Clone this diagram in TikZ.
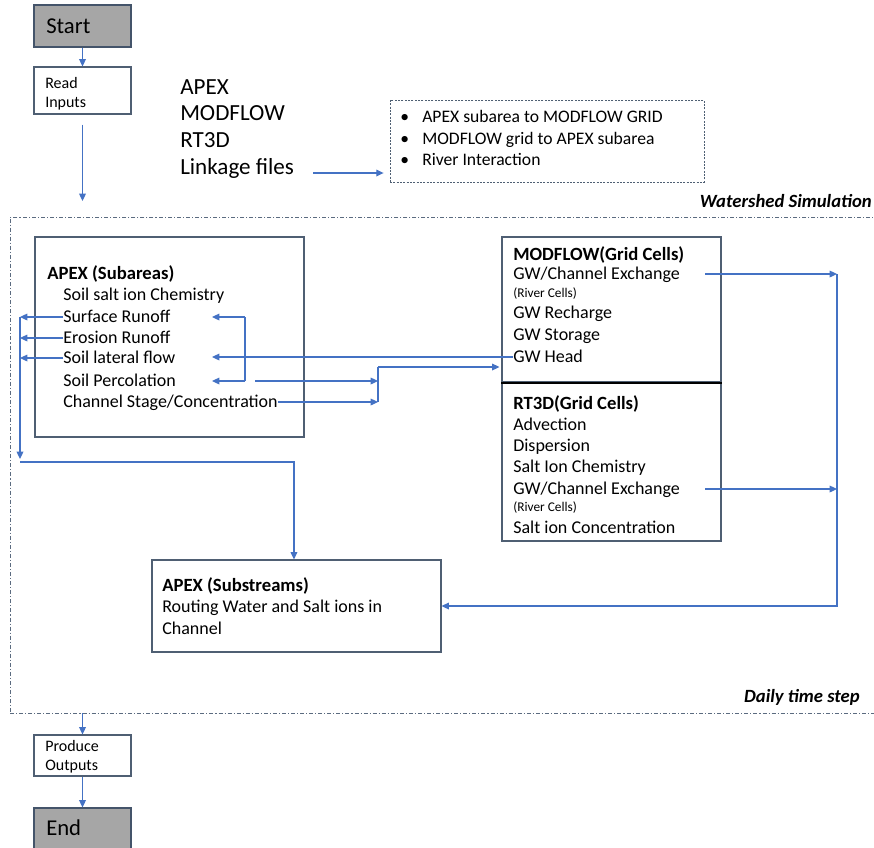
\documentclass[tikz,border=0pt]{standalone}
\usepackage{fontspec}
\setmainfont{Carlito}
\usetikzlibrary{arrows.meta}
\definecolor{ablue}{HTML}{4472C4}
\definecolor{boxc}{HTML}{4F5F73}
\definecolor{termfill}{HTML}{A6A6A6}
\definecolor{termdraw}{HTML}{44546A}
\definecolor{framec}{HTML}{5B6B80}
\begin{document}
\begin{tikzpicture}[x=0.75pt,y=-0.75pt,
  box/.style={draw=boxc, line width=0.8pt, fill=white, inner sep=0pt},
  term/.style={draw=termdraw, line width=0.8pt, fill=termfill, inner sep=0pt, minimum width=72.75pt, minimum height=31.5pt},
  smallbox/.style={draw=boxc, line width=0.8pt, fill=white, inner sep=0pt, minimum width=72.75pt},
  linkbox/.style={draw=boxc, line width=0.6pt, dash pattern=on 1.5pt off 1pt, inner sep=0pt},
  framebox/.style={draw=framec, line width=0.6pt, dash pattern=on 3pt off 1.5pt on 0.8pt off 1.5pt, inner sep=0pt},
  arr/.style={draw=ablue, line width=0.9pt, -{Triangle[length=5.5pt,width=5pt]}},
  ln/.style={draw=ablue, line width=0.9pt},
  tterm/.style={anchor=west, inner sep=0pt, text height=11pt, text depth=0pt, font=\fontsize{17}{20}\selectfont},
  tsmall/.style={anchor=west, inner sep=0pt, text height=7.7pt, text depth=0pt, font=\fontsize{12}{14}\selectfont},
  tbig/.style={anchor=west, inner sep=0pt, text height=11.1pt, text depth=0pt, font=\fontsize{17.3}{20}\selectfont},
  tbul/.style={anchor=west, inner sep=0pt, text height=8.5pt, text depth=0pt, font=\fontsize{13.2}{16}\selectfont},
  tbody/.style={anchor=west, inner sep=0pt, text height=8.7pt, text depth=0pt, font=\fontsize{13.5}{16}\selectfont},
  ttitle/.style={anchor=west, inner sep=0pt, text height=9pt, text depth=0pt, font=\bfseries\fontsize{14}{17}\selectfont},
  tnote/.style={anchor=west, inner sep=0pt, text height=6.4pt, text depth=0pt, font=\fontsize{10}{12}\selectfont},
  tlabel/.style={anchor=base east, inner sep=0pt, font=\bfseries\itshape\fontsize{14}{17}\selectfont},
]
\fill[white] (0,0) rectangle (874,847);
\clip (0,0) rectangle (874,847);

% outer frame
\node[framebox, minimum width=660pt, minimum height=372pt] (frame) at (450,465) {};

% start / read
\node[term] (startb) at (82.5,26) {};
\node[tterm] (starttxt) at (46,26) {Start};
\node[smallbox, minimum height=35.25pt] (read) at (82.5,90.5) {};
\node[tsmall] (readtxt1) at (45,83) {Read};
\node[tsmall] (readtxt2) at (45,102) {Inputs};

% inputs list
\node[tbig] (inapex) at (180,87) {APEX};
\node[tbig] (inmod) at (180,113) {MODFLOW};
\node[tbig] (inrt) at (180,140) {RT3D};
\node[tbig] (inlink) at (180,167) {Linkage files};

% linkage dashed box
\node[linkbox, minimum width=235.5pt, minimum height=61.5pt] (lbox) at (547,141) {};
\node[tbul] (lb1) at (400,117) {\makebox[16.5pt][l]{•}APEX subarea to MODFLOW GRID};
\node[tbul] (lb2) at (400,139) {\makebox[16.5pt][l]{•}MODFLOW grid to APEX subarea};
\node[tbul] (lb3) at (400,160) {\makebox[16.5pt][l]{•}River Interaction};

\node[tlabel] (wslabel) at (872,207) {Watershed Simulation};
\node[tlabel] (dtlabel) at (860,702) {Daily time step};

% APEX subareas
\node[box, minimum width=201.75pt, minimum height=150pt] (apexsub) at (169.5,337) {};
\node[ttitle] (asttl) at (47,273) {APEX (Subareas)};
\node[tbody] (ssc) at (63,295) {Soil salt ion Chemistry};
\node[tbody] (sr) at (63,317) {Surface Runoff};
\node[tbody] (er) at (63,338) {Erosion Runoff};
\node[tbody] (slf) at (63,358) {Soil lateral flow};
\node[tbody] (sp) at (63,381) {Soil Percolation};
\node[tbody] (cs) at (63,402) {Channel Stage/Concentration};

% MODFLOW / RT3D
\node[box, minimum width=164.25pt, minimum height=108.75pt] (modbox) at (611.5,309.5) {};
\node[box, minimum width=164.25pt, minimum height=119.25pt] (rtbox) at (611.5,461.5) {};
\draw[black, line width=1.5pt] (modbox.south west) -- (modbox.south east);
\node[ttitle] (mttl) at (513,254) {MODFLOW(Grid Cells)};
\node[tbody] (mgw) at (513,274) {GW/Channel Exchange};
\node[tnote] (mrc) at (513,293) {(River Cells)};
\node[tbody] (mrech) at (513,313) {GW Recharge};
\node[tbody] (mstor) at (513,335) {GW Storage};
\node[tbody] (mhead) at (513,357) {GW Head};
\node[ttitle] (rttl) at (513,403) {RT3D(Grid Cells)};
\node[tbody] (radv) at (513,425) {Advection};
\node[tbody] (rdisp) at (513,446) {Dispersion};
\node[tbody] (rsic) at (513,467) {Salt Ion Chemistry};
\node[tbody] (rgw) at (513,489) {GW/Channel Exchange};
\node[tnote] (rrc) at (513,507) {(River Cells)};
\node[tbody] (rconc) at (513,528) {Salt ion Concentration};

% APEX substreams
\node[box, minimum width=216.75pt, minimum height=69pt] (subs) at (296.5,606) {};
\node[ttitle] (subttl) at (162,585) {APEX (Substreams)};
\node[tbody] (subl1) at (162,607) {Routing Water and Salt ions in};
\node[tbody] (subl2) at (162,629) {Channel};

% produce / end
\node[smallbox, minimum height=30.75pt] (produce) at (82.5,755.5) {};
\node[tsmall] (prodtxt1) at (45,746) {Produce};
\node[tsmall] (prodtxt2) at (45,765) {Outputs};
\node[term] (endb) at (82.5,829) {};
\node[tterm] (endtxt) at (46,828) {End};

% helper coordinates
\coordinate (rdend) at (82.5,201);
\coordinate (la) at (313,173);
\coordinate (lvx) at (20,0);
\coordinate (lvbot) at (20,459);
\coordinate (lvturn) at (20,462);
\coordinate (tipx) at (212,0);
\coordinate (bx) at (245,0);
\coordinate (px) at (255,0);
\coordinate (jx) at (378,0);
\coordinate (jtop) at (378,367);
\coordinate (ex) at (705,0);
\coordinate (vx) at (837,0);

% connectors
\draw[arr] (startb.south) -- (read.north);
\draw[arr] ([yshift=-7.5pt]read.south) -- (rdend);
\draw[arr] (la) -- ([xshift=-4.5pt]lbox.west |- la);
\draw[arr] (frame.south -| read.south) -- (produce.north);
\draw[arr] (produce.south) -- (endb.north);

% left outputs of APEX subareas
\draw[arr] (sr.west) -- (lvx |- sr.west);
\draw[arr] (er.west) -- (lvx |- er.west);
\draw[arr] (slf.west) -- (lvx |- slf.west);
\draw[arr] (lvx |- sr.west) -- (lvbot);
\draw[arr] (lvturn) -| ([xshift=-1.9pt]subs.north);

% bracket
\draw[ln] (bx |- sr.east) -- (bx |- sp.east);
\draw[arr] (bx |- sr.east) -- (tipx |- sr.east);
\draw[arr] (bx |- sp.east) -- (tipx |- sp.east);
\draw[arr] (mhead.west) -- (tipx |- mhead.west);

% to MODFLOW
\draw[arr] (px |- sp.east) -- (jx |- sp.east);
\draw[arr] (cs.east) -- (jx |- cs.east);
\draw[ln] (jx |- cs.east) -- (jtop);
\draw[arr] (jtop) -- ([xshift=-1.5pt]modbox.west |- jtop);

% exchange to substreams
\draw[arr] (ex |- mgw.east) -- (vx |- mgw.east);
\draw[arr] (ex |- rgw.east) -- (vx |- rgw.east);
\draw[arr] (vx |- mgw.east) -- (vx |- subs.east) -- (subs.east);
\end{tikzpicture}
\end{document}
